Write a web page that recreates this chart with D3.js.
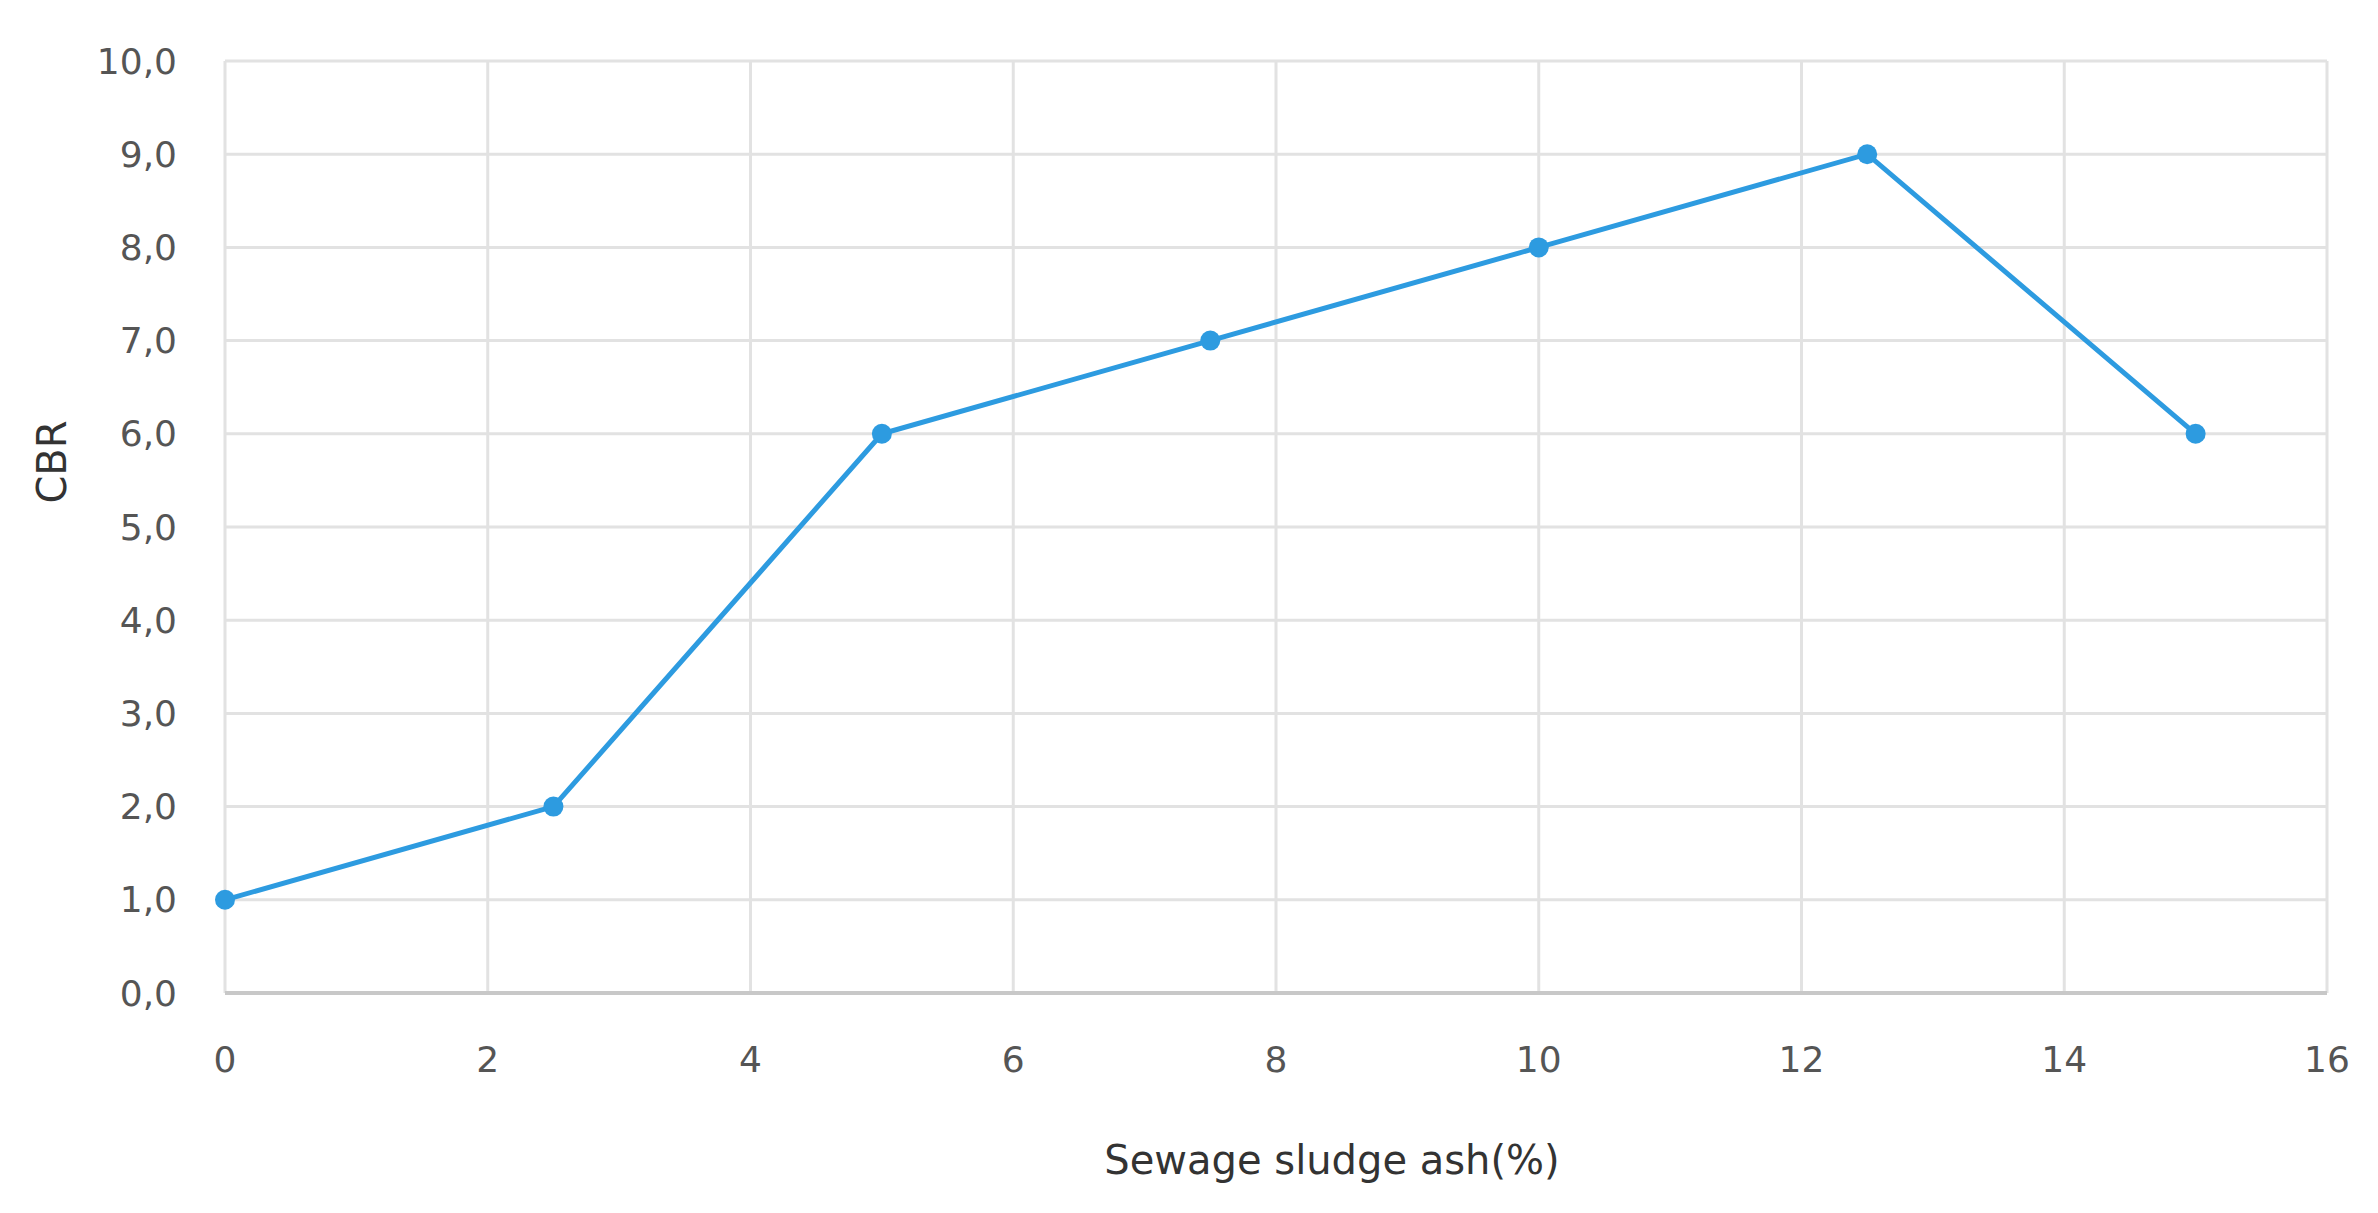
<!DOCTYPE html>
<html><head><meta charset="utf-8">
<script src="https://cdn.jsdelivr.net/npm/d3@7"></script>
<style>body{margin:0;background:#fff}svg{display:block}</style>
</head><body><svg></svg>
<script>
// Data
const ashPct = [0, 2.5, 5, 7.5, 10, 12.5, 15];
const cbr = [1, 2, 6, 7, 8, 9, 6];
const xTicks = [0, 2, 4, 6, 8, 10, 12, 14, 16];
const yTicks = [0, 1, 2, 3, 4, 5, 6, 7, 8, 9, 10];

const width = 2378, height = 1213;
const margin = {left: 225, right: 51, top: 61, bottom: 220};

const svg = d3.select("svg").attr("width", width).attr("height", height);

const x = d3.scaleLinear().domain([0, 16]).range([margin.left, width - margin.right]);
const y = d3.scaleLinear().domain([0, 10]).range([height - margin.bottom, margin.top]);

const font = "'DejaVu Sans', Verdana, sans-serif";
const grey = "#555";

// Gridlines
svg.append("g").selectAll("line").data(yTicks).enter().append("line")
    .attr("x1", x(0)).attr("x2", x(16))
    .attr("y1", d => y(d)).attr("y2", d => y(d))
    .attr("stroke", "#e2e2e2").attr("stroke-width", 3);
svg.append("g").selectAll("line").data(xTicks).enter().append("line")
    .attr("y1", y(0)).attr("y2", y(10))
    .attr("x1", d => x(d)).attr("x2", d => x(d))
    .attr("stroke", "#e2e2e2").attr("stroke-width", 3);
// Bottom axis line
svg.append("line").attr("x1", x(0)).attr("x2", x(16)).attr("y1", y(0)).attr("y2", y(0))
    .attr("stroke", "#c8c8c8").attr("stroke-width", 4);

// Tick labels
svg.append("g").selectAll("text").data(yTicks).enter().append("text")
    .attr("x", margin.left - 48).attr("y", d => y(d)).attr("dy", "0.35em")
    .attr("text-anchor", "end").attr("fill", grey)
    .style("font-family", font).style("font-size", "36px")
    .text(d => d3.format(".1f")(d).replace(".", ","));
svg.append("g").selectAll("text").data(xTicks).enter().append("text")
    .attr("x", d => x(d)).attr("y", y(0) + 66).attr("dy", "0.35em")
    .attr("text-anchor", "middle").attr("fill", grey)
    .style("font-family", font).style("font-size", "36px")
    .text(d => d);

// Axis titles
svg.append("text").attr("transform", `translate(66,${(y(0) + y(10)) / 2 - 65}) rotate(-90)`)
    .attr("text-anchor", "middle").attr("fill", "#333")
    .style("font-family", font).style("font-size", "40px").text("CBR");
svg.append("text").attr("x", 1332).attr("y", 1174)
    .attr("text-anchor", "middle").attr("fill", "#333")
    .style("font-family", font).style("font-size", "40px").text("Sewage sludge ash(%)");

// Line and markers
const pts = ashPct.map((d, i) => [d, cbr[i]]);
svg.append("path").datum(pts)
    .attr("d", d3.line().x(d => x(d[0])).y(d => y(d[1])))
    .attr("fill", "none").attr("stroke", "#2d9be0").attr("stroke-width", 5);
svg.append("g").selectAll("circle").data(pts).enter().append("circle")
    .attr("cx", d => x(d[0])).attr("cy", d => y(d[1])).attr("r", 10)
    .attr("fill", "#2d9be0");
</script></body></html>
